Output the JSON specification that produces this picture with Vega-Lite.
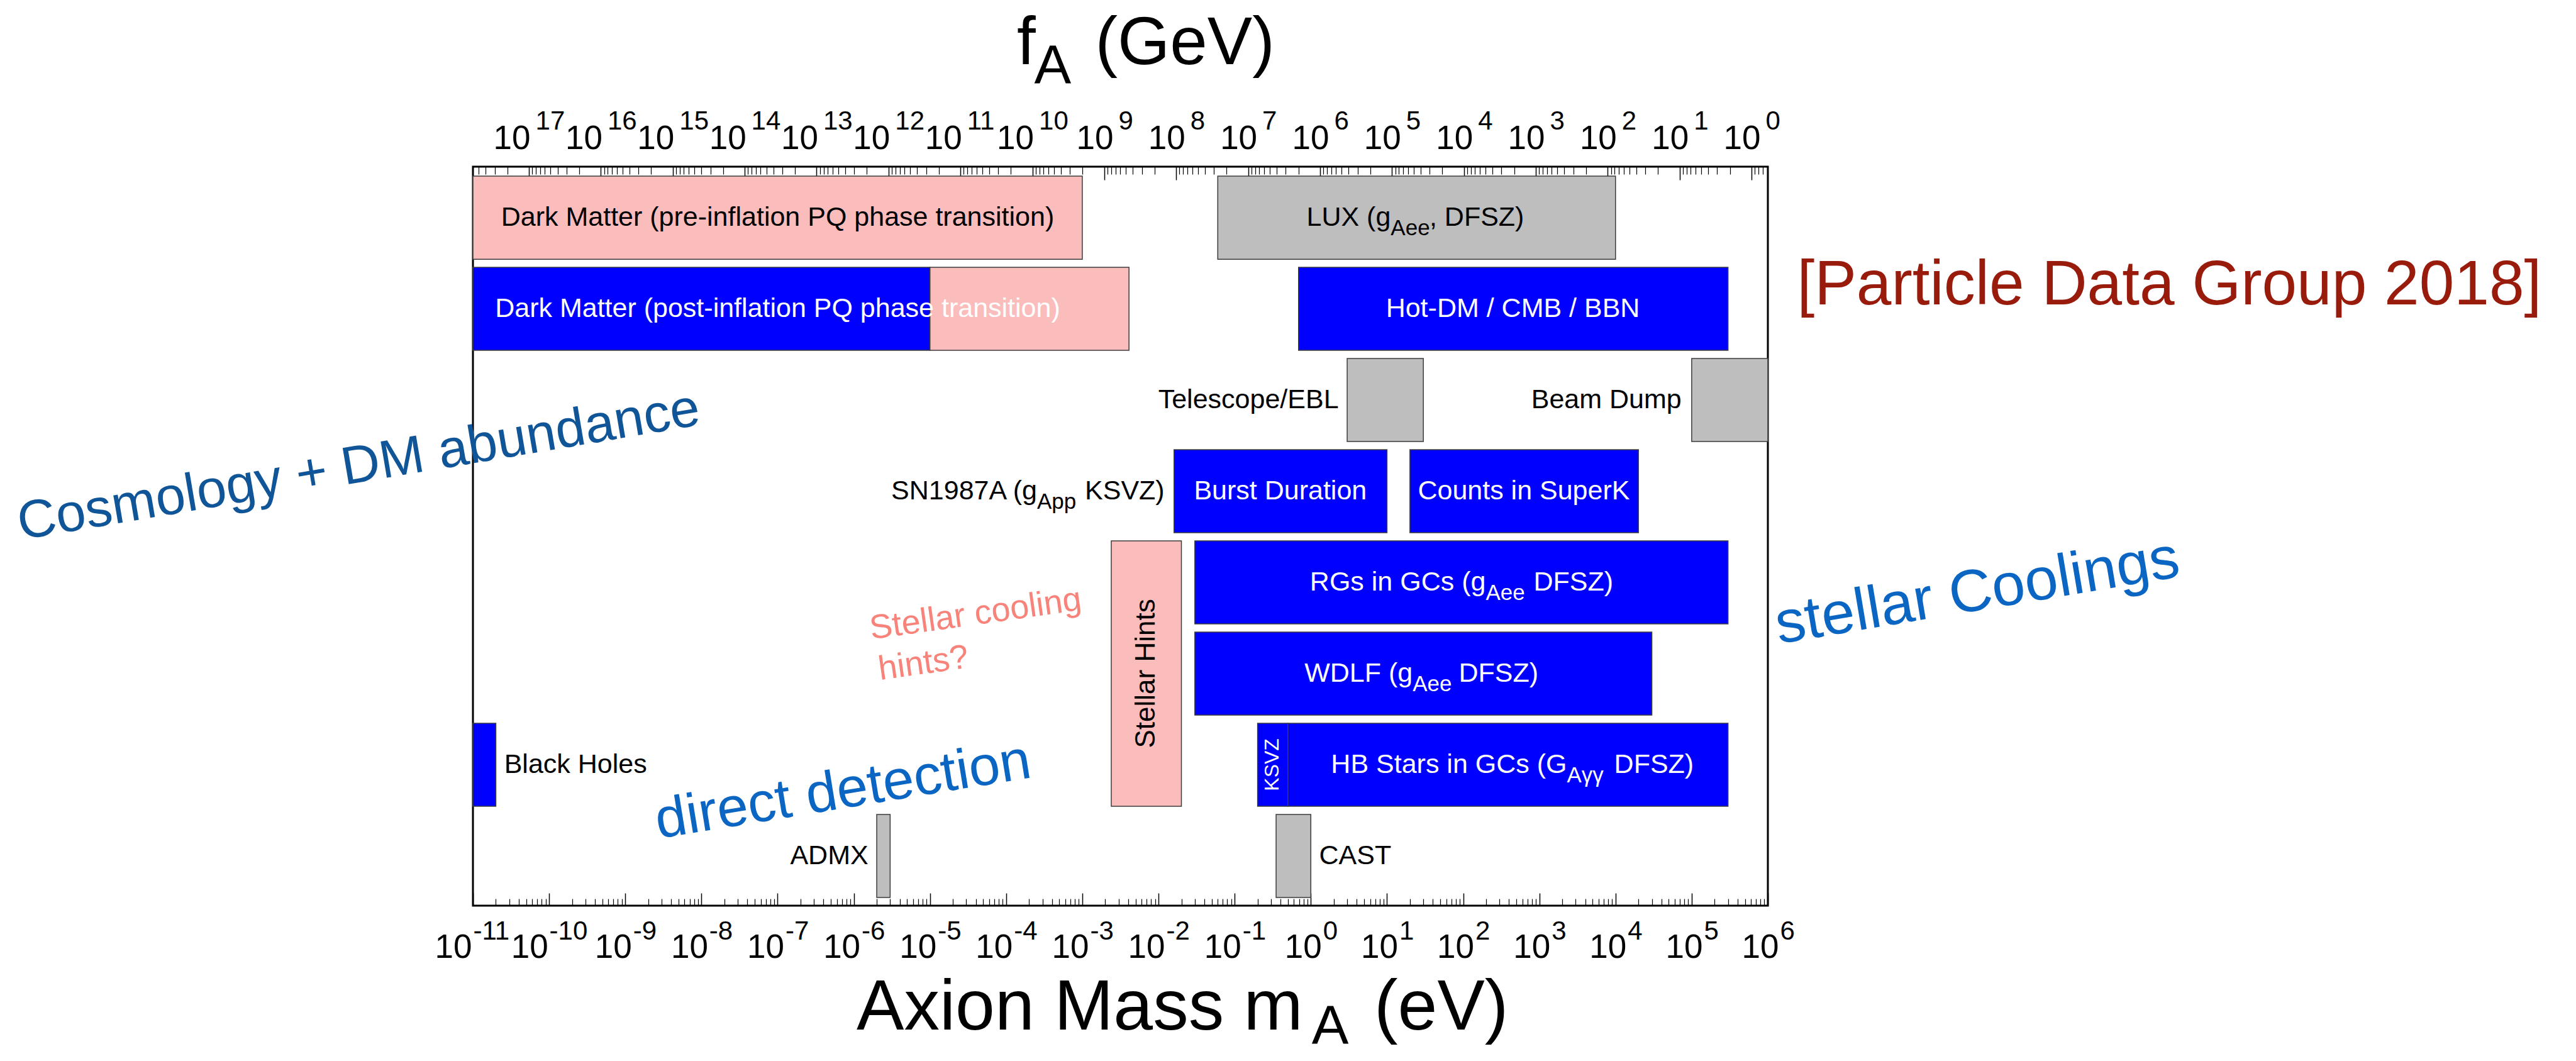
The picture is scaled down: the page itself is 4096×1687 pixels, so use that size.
{
  "$schema": "https://vega.github.io/schema/vega-lite/v6.json",
  "width": 2059,
  "height": 1175,
  "autosize": {"type": "none"},
  "padding": {"left": 752, "top": 265, "right": 1285, "bottom": 247},
  "background": "white",
  "config": {
    "view": {"stroke": "#000000", "strokeWidth": 3},
    "axis": {"labelFont": "Liberation Sans", "labelColor": "#000000", "tickColor": "#000000", "grid": false, "domain": false, "title": null, "labelOverlap": false, "labelFlush": false, "labelBound": false},
    "text": {"font": "Liberation Sans"}
  },
  "datasets": {
    "bars": [
      {"name": "Dark Matter (pre-inflation PQ phase transition)", "lo": 1e-11, "hi": 0.001, "r0": 0, "r1": 1, "kind": "pink"},
      {"name": "LUX (gAee, DFSZ)", "lo": 0.06, "hi": 10000, "r0": 0, "r1": 1, "kind": "gray"},
      {"name": "Dark Matter (post-inflation PQ phase transition) excluded", "lo": 1e-11, "hi": 1e-5, "r0": 1, "r1": 2, "kind": "blue"},
      {"name": "Dark Matter (post-inflation PQ phase transition) range", "lo": 1e-5, "hi": 0.0041, "r0": 1, "r1": 2, "kind": "pink"},
      {"name": "Hot-DM / CMB / BBN", "lo": 0.69, "hi": 300000, "r0": 1, "r1": 2, "kind": "blue"},
      {"name": "Telescope/EBL", "lo": 3, "hi": 30, "r0": 2, "r1": 3, "kind": "gray"},
      {"name": "Beam Dump", "lo": 100000, "hi": 1000000, "r0": 2, "r1": 3, "kind": "gray"},
      {"name": "SN1987A Burst Duration", "lo": 0.016, "hi": 10, "r0": 3, "r1": 4, "kind": "blue"},
      {"name": "SN1987A Counts in SuperK", "lo": 20, "hi": 20000, "r0": 3, "r1": 4, "kind": "blue"},
      {"name": "Stellar Hints", "lo": 0.0024, "hi": 0.02, "r0": 4, "r1": 7, "kind": "pink"},
      {"name": "RGs in GCs (gAee DFSZ)", "lo": 0.03, "hi": 300000, "r0": 4, "r1": 5, "kind": "blue"},
      {"name": "WDLF (gAee DFSZ)", "lo": 0.03, "hi": 30000, "r0": 5, "r1": 6, "kind": "blue"},
      {"name": "Black Holes", "lo": 1e-11, "hi": 2e-11, "r0": 6, "r1": 7, "kind": "blue"},
      {"name": "HB Stars KSVZ", "lo": 0.2, "hi": 0.5, "r0": 6, "r1": 7, "kind": "blue"},
      {"name": "HB Stars in GCs (GAyy DFSZ)", "lo": 0.5, "hi": 300000, "r0": 6, "r1": 7, "kind": "blue"},
      {"name": "ADMX", "lo": 2e-6, "hi": 3e-6, "r0": 7, "r1": 8, "kind": "gray"},
      {"name": "CAST", "lo": 0.35, "hi": 1, "r0": 7, "r1": 8, "kind": "gray"}
    ],
    "labels": [
      {"t": "Dark Matter (post-inflation PQ phase transition)", "x": 1e-7, "row": 1, "g": "cw"},
      {"t": "Hot-DM / CMB / BBN", "x": 449, "row": 1, "g": "cw"},
      {"t": "Burst Duration", "x": 0.398, "row": 3, "g": "cw"},
      {"t": "Counts in SuperK", "x": 625, "row": 3, "g": "cw"},
      {"t": "Dark Matter (pre-inflation PQ phase transition)", "x": 1e-7, "row": 0, "g": "cb"},
      {"t": "Telescope/EBL", "x": 2.32, "row": 2, "g": "rb"},
      {"t": "Beam Dump", "x": 73600, "row": 2, "g": "rb"},
      {"t": "ADMX", "x": 1.55e-6, "row": 7, "g": "rb"},
      {"t": "LUX (g", "x": 11.19, "row": 0, "g": "rb"},
      {"t": "SN1987A (g", "x": 0.0002547, "row": 3, "g": "rb"},
      {"t": "Black Holes", "x": 2.57e-11, "row": 6, "g": "lb"},
      {"t": "CAST", "x": 1.285, "row": 7, "g": "lb"},
      {"t": ", DFSZ)", "x": 36.1, "row": 0, "g": "lb"},
      {"t": "KSVZ)", "x": 0.001081, "row": 3, "g": "lb"},
      {"t": "Aee", "x": 11.19, "row": 0, "g": "sb"},
      {"t": "App", "x": 0.0002547, "row": 3, "g": "sb"},
      {"t": "RGs in GCs (g", "x": 197.7, "row": 4, "g": "rw"},
      {"t": "WDLF (g", "x": 21.7, "row": 5, "g": "rw"},
      {"t": "HB Stars in GCs (G", "x": 2301, "row": 6, "g": "rw"},
      {"t": "DFSZ)", "x": 841, "row": 4, "g": "lw"},
      {"t": "DFSZ)", "x": 87.5, "row": 5, "g": "lw"},
      {"t": "DFSZ)", "x": 9594, "row": 6, "g": "lw"},
      {"t": "Aee", "x": 197.7, "row": 4, "g": "sw"},
      {"t": "Aee", "x": 21.7, "row": 5, "g": "sw"},
      {"t": "Aγγ", "x": 2301, "row": 6, "g": "sw"},
      {"t": "Stellar Hints", "x": 0.00698, "row": 5, "g": "vb"},
      {"t": "KSVZ", "x": 0.31, "row": 6, "g": "vw"}
    ],
    "notes": [
      {"t": "f", "x": 0.0001387, "y": -1.2255, "g": "ttop"},
      {"t": "(GeV)", "x": 0.001476, "y": -1.2255, "g": "ttop"},
      {"t": "A", "x": 0.0002333, "y": -1.0174, "g": "tsub"},
      {"t": "Axion Mass m", "x": 1.09e-6, "y": 9.358, "g": "tbot"},
      {"t": "A", "x": 1.026, "y": 9.52, "g": "tsub"},
      {"t": "(eV)", "x": 6.78, "y": 9.358, "g": "tbot"},
      {"t": "Cosmology + DM abundance", "x": 1.159e-17, "y": 3.9876, "g": "cosmo"},
      {"t": "direct detection", "x": 2.729e-9, "y": 7.2642, "g": "direct"},
      {"t": "stellar Coolings", "x": 1393000, "y": 5.1278, "g": "stellar"},
      {"t": "[Particle Data Group 2018]", "x": 2415000, "y": 1.4075, "g": "pdg"},
      {"t": "Stellar cooling", "x": 1.702e-6, "y": 5.0804, "g": "hints"},
      {"t": "hints?", "x": 2.213e-6, "y": 5.5259, "g": "hints"}
    ]
  },
  "resolve": {"scale": {"x": "independent"}, "axis": {"x": "independent"}},
  "layer": [
    {
      "data": {"name": "bars"},
      "mark": {"type": "rect", "stroke": "#3c3c3c", "strokeWidth": 1.5, "y2Offset": -12.9},
      "encoding": {
        "x": {"field": "lo", "type": "quantitative", "scale": {"type": "log", "domain": [1e-11, 1000000], "nice": false},
          "axis": {"orient": "bottom", "values": [1e-11, 1e-10, 1e-9, 1e-8, 1e-7, 1e-6, 1e-5, 1e-4, 0.001, 0.01, 0.1, 1, 10, 100, 1000, 10000, 100000, 1000000],
            "labelExpr": "'10'", "ticks": true, "tickSize": -20, "tickWidth": 1.5, "labelFontSize": 53, "labelAlign": "right", "labelBaseline": "alphabetic", "labelPadding": 102,
            "labelOffset": {"condition": [{"test": "datum.value < 3e-10", "value": -2}, {"test": "datum.value < 0.5", "value": 10}], "value": 17}}},
        "x2": {"field": "hi"},
        "y": {"field": "r0", "type": "quantitative", "scale": {"domain": [-0.104, 8.001], "reverse": true, "nice": false, "zero": false}, "axis": null},
        "y2": {"field": "r1"},
        "color": {"field": "kind", "type": "nominal", "scale": {"domain": ["blue", "pink", "gray"], "range": ["#0000FF", "#FBBCBC", "#BEBEBE"]}, "legend": null}
      }
    },
    {
      "data": {"name": "bars"},
      "mark": {"type": "point", "opacity": 0},
      "encoding": {
        "x": {"field": "lo", "type": "quantitative", "scale": {"type": "log", "domain": [1e-11, 1000000], "nice": false},
          "axis": {"orient": "bottom", "values": [1e-11, 1e-10, 1e-9, 1e-8, 1e-7, 1e-6, 1e-5, 1e-4, 0.001, 0.01, 0.1, 1, 10, 100, 1000, 10000, 100000, 1000000],
            "labelExpr": "'' + round(log(datum.value) / LN10)", "ticks": false, "labelFontSize": 42, "labelAlign": "left", "labelBaseline": "alphabetic", "labelPadding": 53,
            "labelOffset": {"condition": [{"test": "datum.value < 3e-10", "value": 0}, {"test": "datum.value < 0.5", "value": 12}], "value": 19}}}
      }
    },
    {
      "data": {"name": "bars"},
      "mark": {"type": "point", "opacity": 0},
      "encoding": {
        "x": {"field": "lo", "type": "quantitative", "scale": {"type": "log", "domain": [1e-11, 1000000], "nice": false},
          "axis": {"orient": "bottom", "labels": false, "ticks": true, "tickSize": -11, "tickWidth": 1.2,
            "values": [2e-11, 3e-11, 4e-11, 5e-11, 6e-11, 7e-11, 8e-11, 9e-11, 2e-10, 3e-10, 4e-10, 5e-10, 6e-10, 7e-10, 8e-10, 9e-10, 2e-9, 3e-9, 4e-9, 5e-9, 6e-9, 7e-9, 8e-9, 9e-9, 2e-8, 3e-8, 4e-8, 5e-8, 6e-8, 7e-8, 8e-8, 9e-8, 2e-7, 3e-7, 4e-7, 5e-7, 6e-7, 7e-7, 8e-7, 9e-7, 2e-6, 3e-6, 4e-6, 5e-6, 6e-6, 7e-6, 8e-6, 9e-6, 2e-5, 3e-5, 4e-5, 5e-5, 6e-5, 7e-5, 8e-5, 9e-5, 0.0002, 0.0003, 0.0004, 0.0005, 0.0006, 0.0007, 0.0008, 0.0009, 0.002, 0.003, 0.004, 0.005, 0.006, 0.007, 0.008, 0.009, 0.02, 0.03, 0.04, 0.05, 0.06, 0.07, 0.08, 0.09, 0.2, 0.3, 0.4, 0.5, 0.6, 0.7, 0.8, 0.9, 2, 3, 4, 5, 6, 7, 8, 9, 20, 30, 40, 50, 60, 70, 80, 90, 200, 300, 400, 500, 600, 700, 800, 900, 2000, 3000, 4000, 5000, 6000, 7000, 8000, 9000, 20000, 30000, 40000, 50000, 60000, 70000, 80000, 90000, 200000, 300000, 400000, 500000, 600000, 700000, 800000, 900000]}}
      }
    },
    {
      "data": {"name": "bars"},
      "mark": {"type": "point", "opacity": 0},
      "encoding": {
        "x": {"field": "hi", "type": "quantitative", "scale": {"type": "log", "domain": [0.593, 6.01e17], "reverse": true, "nice": false},
          "axis": {"orient": "top", "values": [1e17, 1e16, 1e15, 1e14, 1e13, 1e12, 1e11, 1e10, 1e9, 1e8, 1e7, 1e6, 1e5, 1e4, 1000, 100, 10, 1],
            "labelExpr": "'10'", "ticks": true, "tickSize": -21, "tickWidth": 1.5, "labelFontSize": 53, "labelAlign": "right", "labelBaseline": "alphabetic", "labelPadding": 50,
            "labelOffset": {"condition": {"test": "datum.value >= 1e10", "value": 2}, "value": 14}}}
      }
    },
    {
      "data": {"name": "bars"},
      "mark": {"type": "point", "opacity": 0},
      "encoding": {
        "x": {"field": "hi", "type": "quantitative", "scale": {"type": "log", "domain": [0.593, 6.01e17], "reverse": true, "nice": false},
          "axis": {"orient": "top", "values": [1e17, 1e16, 1e15, 1e14, 1e13, 1e12, 1e11, 1e10, 1e9, 1e8, 1e7, 1e6, 1e5, 1e4, 1000, 100, 10, 1],
            "labelExpr": "'' + round(log(datum.value) / LN10)", "ticks": false, "labelFontSize": 42, "labelAlign": "left", "labelBaseline": "alphabetic", "labelPadding": 60,
            "labelOffset": {"condition": {"test": "datum.value >= 1e10", "value": 10}, "value": 22}}}
      }
    },
    {
      "data": {"name": "bars"},
      "mark": {"type": "point", "opacity": 0},
      "encoding": {
        "x": {"field": "hi", "type": "quantitative", "scale": {"type": "log", "domain": [0.593, 6.01e17], "reverse": true, "nice": false},
          "axis": {"orient": "top", "labels": false, "ticks": true, "tickSize": -12, "tickWidth": 1.2,
            "values": [0.7, 0.8, 0.9, 2, 3, 4, 5, 6, 7, 8, 9, 20, 30, 40, 50, 60, 70, 80, 90, 200, 300, 400, 500, 600, 700, 800, 900, 2000, 3000, 4000, 5000, 6000, 7000, 8000, 9000, 2e4, 3e4, 4e4, 5e4, 6e4, 7e4, 8e4, 9e4, 2e5, 3e5, 4e5, 5e5, 6e5, 7e5, 8e5, 9e5, 2e6, 3e6, 4e6, 5e6, 6e6, 7e6, 8e6, 9e6, 2e7, 3e7, 4e7, 5e7, 6e7, 7e7, 8e7, 9e7, 2e8, 3e8, 4e8, 5e8, 6e8, 7e8, 8e8, 9e8, 2e9, 3e9, 4e9, 5e9, 6e9, 7e9, 8e9, 9e9, 2e10, 3e10, 4e10, 5e10, 6e10, 7e10, 8e10, 9e10, 2e11, 3e11, 4e11, 5e11, 6e11, 7e11, 8e11, 9e11, 2e12, 3e12, 4e12, 5e12, 6e12, 7e12, 8e12, 9e12, 2e13, 3e13, 4e13, 5e13, 6e13, 7e13, 8e13, 9e13, 2e14, 3e14, 4e14, 5e14, 6e14, 7e14, 8e14, 9e14, 2e15, 3e15, 4e15, 5e15, 6e15, 7e15, 8e15, 9e15, 2e16, 3e16, 4e16, 5e16, 6e16, 7e16, 8e16, 9e16, 2e17, 3e17, 4e17, 5e17]}}
      }
    },
    {
      "data": {"name": "labels"},
      "transform": [{"filter": "datum.g === 'cw'"}],
      "mark": {"type": "text", "fontSize": 43, "color": "#FFFFFF", "align": "center", "baseline": "middle", "yOffset": 66},
      "encoding": {
        "x": {"field": "x", "type": "quantitative", "scale": {"type": "log", "domain": [1e-11, 1000000], "nice": false}, "axis": null},
        "y": {"field": "row", "type": "quantitative", "scale": {"domain": [-0.104, 8.001], "reverse": true, "nice": false, "zero": false}, "axis": null},
        "text": {"field": "t"}
      }
    },
    {
      "data": {"name": "labels"},
      "transform": [{"filter": "datum.g === 'cb'"}],
      "mark": {"type": "text", "fontSize": 43, "color": "#000000", "align": "center", "baseline": "middle", "yOffset": 66},
      "encoding": {
        "x": {"field": "x", "type": "quantitative", "scale": {"type": "log", "domain": [1e-11, 1000000], "nice": false}, "axis": null},
        "y": {"field": "row", "type": "quantitative", "scale": {"domain": [-0.104, 8.001], "reverse": true, "nice": false, "zero": false}, "axis": null},
        "text": {"field": "t"}
      }
    },
    {
      "data": {"name": "labels"},
      "transform": [{"filter": "datum.g === 'rb'"}],
      "mark": {"type": "text", "fontSize": 43, "color": "#000000", "align": "right", "baseline": "middle", "yOffset": 66},
      "encoding": {
        "x": {"field": "x", "type": "quantitative", "scale": {"type": "log", "domain": [1e-11, 1000000], "nice": false}, "axis": null},
        "y": {"field": "row", "type": "quantitative", "scale": {"domain": [-0.104, 8.001], "reverse": true, "nice": false, "zero": false}, "axis": null},
        "text": {"field": "t"}
      }
    },
    {
      "data": {"name": "labels"},
      "transform": [{"filter": "datum.g === 'lb'"}],
      "mark": {"type": "text", "fontSize": 43, "color": "#000000", "align": "left", "baseline": "middle", "yOffset": 66},
      "encoding": {
        "x": {"field": "x", "type": "quantitative", "scale": {"type": "log", "domain": [1e-11, 1000000], "nice": false}, "axis": null},
        "y": {"field": "row", "type": "quantitative", "scale": {"domain": [-0.104, 8.001], "reverse": true, "nice": false, "zero": false}, "axis": null},
        "text": {"field": "t"}
      }
    },
    {
      "data": {"name": "labels"},
      "transform": [{"filter": "datum.g === 'sb'"}],
      "mark": {"type": "text", "fontSize": 35, "color": "#000000", "align": "left", "baseline": "middle", "yOffset": 83},
      "encoding": {
        "x": {"field": "x", "type": "quantitative", "scale": {"type": "log", "domain": [1e-11, 1000000], "nice": false}, "axis": null},
        "y": {"field": "row", "type": "quantitative", "scale": {"domain": [-0.104, 8.001], "reverse": true, "nice": false, "zero": false}, "axis": null},
        "text": {"field": "t"}
      }
    },
    {
      "data": {"name": "labels"},
      "transform": [{"filter": "datum.g === 'rw'"}],
      "mark": {"type": "text", "fontSize": 43, "color": "#FFFFFF", "align": "right", "baseline": "middle", "yOffset": 66},
      "encoding": {
        "x": {"field": "x", "type": "quantitative", "scale": {"type": "log", "domain": [1e-11, 1000000], "nice": false}, "axis": null},
        "y": {"field": "row", "type": "quantitative", "scale": {"domain": [-0.104, 8.001], "reverse": true, "nice": false, "zero": false}, "axis": null},
        "text": {"field": "t"}
      }
    },
    {
      "data": {"name": "labels"},
      "transform": [{"filter": "datum.g === 'lw'"}],
      "mark": {"type": "text", "fontSize": 43, "color": "#FFFFFF", "align": "left", "baseline": "middle", "yOffset": 66},
      "encoding": {
        "x": {"field": "x", "type": "quantitative", "scale": {"type": "log", "domain": [1e-11, 1000000], "nice": false}, "axis": null},
        "y": {"field": "row", "type": "quantitative", "scale": {"domain": [-0.104, 8.001], "reverse": true, "nice": false, "zero": false}, "axis": null},
        "text": {"field": "t"}
      }
    },
    {
      "data": {"name": "labels"},
      "transform": [{"filter": "datum.g === 'sw'"}],
      "mark": {"type": "text", "fontSize": 35, "color": "#FFFFFF", "align": "left", "baseline": "middle", "yOffset": 83},
      "encoding": {
        "x": {"field": "x", "type": "quantitative", "scale": {"type": "log", "domain": [1e-11, 1000000], "nice": false}, "axis": null},
        "y": {"field": "row", "type": "quantitative", "scale": {"domain": [-0.104, 8.001], "reverse": true, "nice": false, "zero": false}, "axis": null},
        "text": {"field": "t"}
      }
    },
    {
      "data": {"name": "labels"},
      "transform": [{"filter": "datum.g === 'vb'"}],
      "mark": {"type": "text", "fontSize": 44, "color": "#000000", "align": "center", "baseline": "middle", "angle": 270, "yOffset": 66},
      "encoding": {
        "x": {"field": "x", "type": "quantitative", "scale": {"type": "log", "domain": [1e-11, 1000000], "nice": false}, "axis": null},
        "y": {"field": "row", "type": "quantitative", "scale": {"domain": [-0.104, 8.001], "reverse": true, "nice": false, "zero": false}, "axis": null},
        "text": {"field": "t"}
      }
    },
    {
      "data": {"name": "labels"},
      "transform": [{"filter": "datum.g === 'vw'"}],
      "mark": {"type": "text", "fontSize": 32, "color": "#FFFFFF", "align": "center", "baseline": "middle", "angle": 270, "yOffset": 66},
      "encoding": {
        "x": {"field": "x", "type": "quantitative", "scale": {"type": "log", "domain": [1e-11, 1000000], "nice": false}, "axis": null},
        "y": {"field": "row", "type": "quantitative", "scale": {"domain": [-0.104, 8.001], "reverse": true, "nice": false, "zero": false}, "axis": null},
        "text": {"field": "t"}
      }
    },
    {
      "data": {"name": "notes"},
      "transform": [{"filter": "datum.g === 'ttop'"}],
      "mark": {"type": "text", "fontSize": 107, "color": "#000000", "align": "left", "baseline": "alphabetic"},
      "encoding": {
        "x": {"field": "x", "type": "quantitative", "scale": {"type": "log", "domain": [1e-11, 1000000], "nice": false}, "axis": null},
        "y": {"field": "y", "type": "quantitative", "scale": {"domain": [-0.104, 8.001], "reverse": true, "nice": false, "zero": false}, "axis": null},
        "text": {"field": "t"}
      }
    },
    {
      "data": {"name": "notes"},
      "transform": [{"filter": "datum.g === 'tsub'"}],
      "mark": {"type": "text", "fontSize": 88, "color": "#000000", "align": "left", "baseline": "alphabetic"},
      "encoding": {
        "x": {"field": "x", "type": "quantitative", "scale": {"type": "log", "domain": [1e-11, 1000000], "nice": false}, "axis": null},
        "y": {"field": "y", "type": "quantitative", "scale": {"domain": [-0.104, 8.001], "reverse": true, "nice": false, "zero": false}, "axis": null},
        "text": {"field": "t"}
      }
    },
    {
      "data": {"name": "notes"},
      "transform": [{"filter": "datum.g === 'tbot'"}],
      "mark": {"type": "text", "fontSize": 113, "color": "#000000", "align": "left", "baseline": "alphabetic"},
      "encoding": {
        "x": {"field": "x", "type": "quantitative", "scale": {"type": "log", "domain": [1e-11, 1000000], "nice": false}, "axis": null},
        "y": {"field": "y", "type": "quantitative", "scale": {"domain": [-0.104, 8.001], "reverse": true, "nice": false, "zero": false}, "axis": null},
        "text": {"field": "t"}
      }
    },
    {
      "data": {"name": "notes"},
      "transform": [{"filter": "datum.g === 'cosmo'"}],
      "mark": {"type": "text", "fontSize": 85, "color": "#0F5597", "align": "left", "baseline": "alphabetic", "angle": -9.6},
      "encoding": {
        "x": {"field": "x", "type": "quantitative", "scale": {"type": "log", "domain": [1e-11, 1000000], "nice": false}, "axis": null},
        "y": {"field": "y", "type": "quantitative", "scale": {"domain": [-0.104, 8.001], "reverse": true, "nice": false, "zero": false}, "axis": null},
        "text": {"field": "t"}
      }
    },
    {
      "data": {"name": "notes"},
      "transform": [{"filter": "datum.g === 'direct'"}],
      "mark": {"type": "text", "fontSize": 89, "color": "#0A66C2", "align": "left", "baseline": "alphabetic", "angle": -9.3},
      "encoding": {
        "x": {"field": "x", "type": "quantitative", "scale": {"type": "log", "domain": [1e-11, 1000000], "nice": false}, "axis": null},
        "y": {"field": "y", "type": "quantitative", "scale": {"domain": [-0.104, 8.001], "reverse": true, "nice": false, "zero": false}, "axis": null},
        "text": {"field": "t"}
      }
    },
    {
      "data": {"name": "notes"},
      "transform": [{"filter": "datum.g === 'stellar'"}],
      "mark": {"type": "text", "fontSize": 95, "color": "#0A66C2", "align": "left", "baseline": "alphabetic", "angle": -9.5},
      "encoding": {
        "x": {"field": "x", "type": "quantitative", "scale": {"type": "log", "domain": [1e-11, 1000000], "nice": false}, "axis": null},
        "y": {"field": "y", "type": "quantitative", "scale": {"domain": [-0.104, 8.001], "reverse": true, "nice": false, "zero": false}, "axis": null},
        "text": {"field": "t"}
      }
    },
    {
      "data": {"name": "notes"},
      "transform": [{"filter": "datum.g === 'pdg'"}],
      "mark": {"type": "text", "fontSize": 100, "color": "#991B0C", "align": "left", "baseline": "alphabetic"},
      "encoding": {
        "x": {"field": "x", "type": "quantitative", "scale": {"type": "log", "domain": [1e-11, 1000000], "nice": false}, "axis": null},
        "y": {"field": "y", "type": "quantitative", "scale": {"domain": [-0.104, 8.001], "reverse": true, "nice": false, "zero": false}, "axis": null},
        "text": {"field": "t"}
      }
    },
    {
      "data": {"name": "notes"},
      "transform": [{"filter": "datum.g === 'hints'"}],
      "mark": {"type": "text", "fontSize": 54, "color": "#F7837B", "align": "left", "baseline": "alphabetic", "angle": -8},
      "encoding": {
        "x": {"field": "x", "type": "quantitative", "scale": {"type": "log", "domain": [1e-11, 1000000], "nice": false}, "axis": null},
        "y": {"field": "y", "type": "quantitative", "scale": {"domain": [-0.104, 8.001], "reverse": true, "nice": false, "zero": false}, "axis": null},
        "text": {"field": "t"}
      }
    }
  ]
}
